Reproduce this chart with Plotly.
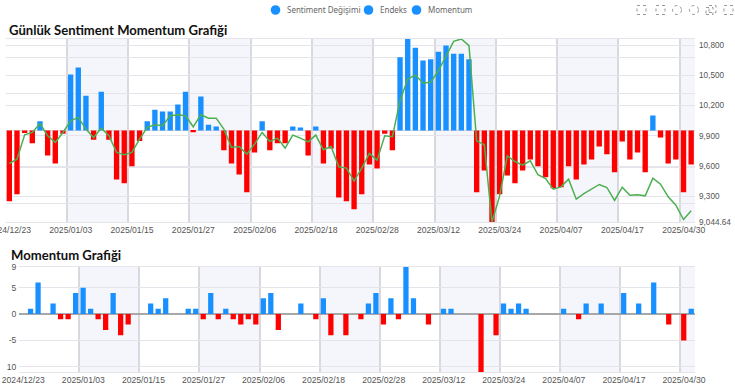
import plotly.graph_objects as go

W, H = 735, 386
FONT = "Liberation Sans"

dates = ["2024/12/23","2024/12/24","2024/12/25","2024/12/26","2024/12/27","2024/12/30","2024/12/31","2025/01/02","2025/01/03",
"2025/01/06","2025/01/07","2025/01/08","2025/01/09","2025/01/10","2025/01/13","2025/01/14","2025/01/15","2025/01/16","2025/01/17",
"2025/01/20","2025/01/21","2025/01/22","2025/01/23","2025/01/24","2025/01/27","2025/01/28","2025/01/29","2025/01/30","2025/01/31",
"2025/02/03","2025/02/04","2025/02/05","2025/02/06","2025/02/07","2025/02/10","2025/02/11","2025/02/12","2025/02/13","2025/02/14",
"2025/02/17","2025/02/18","2025/02/19","2025/02/20","2025/02/21","2025/02/24","2025/02/25","2025/02/26","2025/02/27","2025/02/28",
"2025/03/03","2025/03/04","2025/03/05","2025/03/06","2025/03/07","2025/03/10","2025/03/11","2025/03/12","2025/03/13","2025/03/14",
"2025/03/17","2025/03/18","2025/03/19","2025/03/20","2025/03/21","2025/03/24","2025/03/25","2025/03/26","2025/03/27","2025/03/28",
"2025/04/02","2025/04/03","2025/04/04","2025/04/07","2025/04/08","2025/04/09","2025/04/10","2025/04/11","2025/04/14","2025/04/15",
"2025/04/16","2025/04/17","2025/04/18","2025/04/21","2025/04/22","2025/04/24","2025/04/25","2025/04/28","2025/04/29","2025/04/30","2025/05/02"]

sentiment = [-19.3,-17.4,-0.7,-3.5,2.5,-6.8,-9,-0.9,15.3,17.2,9.5,-2.5,10.6,-2.5,-13.4,-14.4,-9.8,-2.9,2.5,5.7,5.2,5.2,7.1,10.6,-0.5,9.3,
1.6,1.1,-5.4,-9,-12,-16.9,-6,2.5,-5.4,-3.5,-3.5,1.1,0.8,-6.8,1.1,-9,-4.9,-18.3,-19.3,-21.5,-17.4,-9.3,-10.4,-0.9,-5.4,20,25,22.6,19.1,
19.5,21.5,23.2,21,21,19.5,-16.9,-10.9,-25,-17.4,-12.3,-14.4,-10.9,-7.9,-9.8,-12.8,-15.8,-15.5,-9.8,-13.4,-9.3,-7.9,-4.4,-6.5,-11.4,-3,
-7.9,-6,-11.4,4.1,-1.9,-9,-7.9,-16.9,-9.3]

index_values = [9625,9668,9910,9933,10022,9900,9834,9933,10049,10082,9966,9883,9976,9900,9735,9711,9735,9867,9983,10009,10000,10099,10108,
10099,9989,10108,10075,10075,9966,9784,9794,9718,9817,9933,9844,9877,9778,9907,9877,9840,9907,9761,9794,9592,9579,9450,9579,9725,9658,
9900,9890,10248,10463,10502,10423,10430,10545,10694,10837,10860,10794,9850,9811,9044.64,9304,9701,9645,9609,9652,9513,9476,9370,9393,
9470,9271,9327,9370,9417,9387,9258,9390,9311,9314,9304,9480,9420,9294,9212,9069,9155]

momentum = [0,1,6,0,2,-1,-1,4,5,1,-1,-3,4,-4,-2,0,0,2,1,3,0,0,1,1,-1,4,-1,1,-1,-2,-1,-2,3,4,-3,0,0,2,0,-1,3,-4,0,-4,0,-1,2,4,-2,3,-1,9,3,
0,-2,0,1,1,0,0,0,-11,0,-4,2,1,2,1,0,0,0,0,1,0,-1,2,0,2,0,0,4,0,2,0,6,0,-2,0,-5,1]

legend_names = ["Sentiment Değişimi", "Endeks", "Momentum"]
title_top = "Günlük Sentiment Momentum Grafiği"
title_bottom = "Momentum Grafiği"
right_ticks = [9044.64, 9300, 9600, 9900, 10200, 10500, 10800]
right_labels = ["9,044.64", "9,300", "9,600", "9,900", "10,200", "10,500", "10,800"]
bottom_ticks = [-10, -5, 0, 5, 9]
bottom_labels = ["10", "-5", "0", "5", "9"]
tick_idx = list(range(0, 90, 8))

BLUE, RED, GREEN = "#1890ff", "#ff0000", "#4caf50"
GRID = "#e4e4ea"
VGRID = "#d8d8de"
BAND = "#f5f6fb"
TXT = "#555555"

def px(x): return x / W
def py(y): return 1 - y / H

cols = lambda vals: [BLUE if v >= 0 else RED for v in vals]
tickvals = [i - 0.5 for i in tick_idx]
ticktext = [dates[i] for i in tick_idx]

fig = go.Figure()
fig.add_trace(go.Bar(x=dates, y=sentiment, marker_color=cols(sentiment), marker_line_width=0, name=legend_names[0],
                     xaxis="x", yaxis="y", showlegend=False))
fig.add_trace(go.Scatter(x=dates, y=index_values, mode="lines", line=dict(color=GREEN, width=1.5), name=legend_names[1],
                         xaxis="x", yaxis="y2", showlegend=False))
fig.add_trace(go.Bar(x=dates, y=momentum, marker_color=cols(momentum), marker_line_width=0, name=legend_names[2],
                     xaxis="x2", yaxis="y3", showlegend=False))

xcommon = dict(type="category", categoryorder="array", categoryarray=dates, range=[-0.5, 89.5], tickmode="array",
               tickvals=tickvals, ticktext=ticktext, ticklabelshift=4, tickangle=0, showgrid=True, gridcolor=VGRID, gridwidth=1.5,
               zeroline=False, showline=True, linecolor=GRID, linewidth=1, mirror=True, ticks="", automargin=False,
               tickfont=dict(family=FONT, size=8.6, color=TXT))

shapes = []
for start in [8, 24, 40, 56, 72, 88]:
    for xr, yr in [("x", "y"), ("x2", "y3")]:
        shapes.append(dict(type="rect", xref=xr, yref=yr + " domain", x0=start - 0.5, x1=min(start + 7.5, 89.5), y0=0, y1=1,
                           fillcolor=BAND, line_width=0, layer="below"))

annotations = [
    dict(text=f"<b>{title_top}</b>", x=px(7), y=py(30), xref="paper", yref="paper", xanchor="left", yanchor="middle",
         showarrow=False, font=dict(family="Lato", size=13.1, color="#111111")),
    dict(text=f"<b>{title_bottom}</b>", x=px(9), y=py(255), xref="paper", yref="paper", xanchor="left", yanchor="middle",
         showarrow=False, font=dict(family="Lato", size=13.1, color="#111111")),
]
for name, cx in zip(legend_names, [275.5, 368.5, 416.5]):
    shapes.append(dict(type="circle", xref="paper", yref="paper", x0=px(cx - 4.8), x1=px(cx + 4.8), y0=py(10 + 4.8), y1=py(10 - 4.8),
                       fillcolor=BLUE, line_width=0))
    annotations.append(dict(text=name, x=px(cx + 9.5), y=py(10), xref="paper", yref="paper", xanchor="left", yanchor="middle",
                            showarrow=False, font=dict(family="Noto Sans", size=8, color="#666666")))
ICON = dict(color="#999999", width=1, dash="dot")
def icon(kind, cx, cy=10, r=4.5):
    shapes.append(dict(type=kind, xref="paper", yref="paper", x0=px(cx - r), x1=px(cx + r), y0=py(cy + r), y1=py(cy - r),
                       line=ICON, fillcolor="rgba(0,0,0,0)"))
icon("rect", 641.5); icon("rect", 660.5); icon("circle", 677); icon("circle", 694)
icon("rect", 709.5, 11, 3.5); icon("rect", 712.5, 9, 3.5); icon("rect", 728.5)

fig.update_layout(
    width=W, height=H, margin=dict(l=0, r=0, t=0, b=0), autosize=False,
    paper_bgcolor="white", plot_bgcolor="white", barmode="overlay", bargap=0.3, showlegend=False,
    shapes=shapes, annotations=annotations,
    xaxis=dict(domain=[px(5.5), px(695)], anchor="y", **xcommon),
    yaxis=dict(domain=[py(222), py(39)], range=[-25, 25], tickmode="array", tickvals=[-20, -10, 0, 10, 20], automargin=False,
               showticklabels=False, showgrid=True, gridcolor=GRID, gridwidth=1, zeroline=True, zerolinecolor="#d5d5db",
               zerolinewidth=1, showline=False, ticks=""),
    yaxis2=dict(domain=[py(222), py(39)], overlaying="y", side="right", anchor="x", range=[9044.64, 10860], tickmode="array",
                tickvals=right_ticks, ticktext=right_labels, showgrid=True, gridcolor=GRID, gridwidth=1, zeroline=False, automargin=False,
                showline=False, ticks="", ticklabelstandoff=3, tickfont=dict(family=FONT, size=8.2, color=TXT)),
    xaxis2=dict(domain=[px(19.3), px(695)], anchor="y3", **xcommon),
    yaxis3=dict(domain=[py(372), py(266.7)], range=[-11, 9], anchor="x2", tickmode="array", tickvals=bottom_ticks, automargin=False,
                ticktext=bottom_labels, showgrid=True, gridcolor=GRID, gridwidth=1, zeroline=True, zerolinecolor="#a8a8a8",
                zerolinewidth=1.5, showline=False, ticks="", ticklabelstandoff=2, tickfont=dict(family=FONT, size=8.6, color=TXT)),
)
assert len(dates) == len(sentiment) == len(index_values) == len(momentum) == 90

fig.write_html("out.html", config=dict(displayModeBar=False), post_script="document.body.style.margin='0';")
